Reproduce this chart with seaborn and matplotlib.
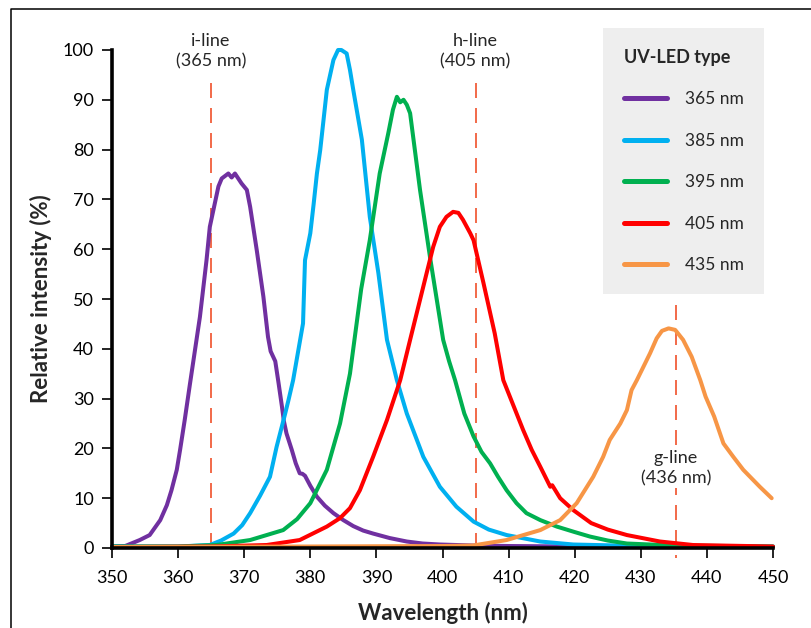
import matplotlib.pyplot as plt
import pandas as pd
import seaborn as sns
from matplotlib.lines import Line2D

led_types = ["365 nm", "385 nm", "395 nm", "405 nm", "435 nm"]
led_colors = ["#7030a0", "#00b0f0", "#00b050", "#ff0000", "#f79646"]

wl_365 = [350, 352, 354.2, 355.7, 357.3, 358.3, 359, 359.8, 360.3, 361, 361.8, 363.3,
          364.3, 364.8, 366.1, 366.6, 367.6, 368.1, 368.6, 369.6, 370.4, 370.9, 371.9,
          372.9, 373.6, 374.0, 374.7, 375.2, 375.7, 376.0, 376.4, 377.2, 377.8, 378.4,
          378.8, 379.2, 380.0, 381, 382.2, 383.5, 385, 386.5, 388, 389.5, 392, 394.6,
          397, 399.6, 404.6, 410, 420, 435, 450]
int_365 = [0.3, 0.4, 1.6, 2.6, 5.6, 8.6, 11.6, 15.7, 19.7, 25.7, 33.0, 46.4,
           57.8, 64.5, 72.6, 74.2, 75.2, 74.4, 75.2, 73.2, 71.9, 68.5, 59.8,
           50.5, 42.4, 39.5, 37.5, 33.1, 28.5, 25.5, 23.0, 19.7, 17.0, 15.0,
           14.9, 14.5, 12.5, 10.3, 8.5, 7.0, 5.6, 4.4, 3.5, 2.9, 2.0, 1.3,
           0.9, 0.7, 0.5, 0.4, 0.3, 0.2, 0.2]

wl_385 = [350, 360, 364.8, 366.5, 368.4, 369.7, 370.9, 372.4, 373.9, 374.9, 376.2, 376.7,
          377.4, 378.9, 379.2, 380, 380.5, 381, 381.5, 382.5, 383.5, 384.2, 384.7, 385.5,
          386, 386.5, 387.8, 389, 390.3, 391.6, 393.1, 394.6, 397.1, 399.6, 402.1, 404.7,
          407, 409.7, 414.8, 419.8, 430, 450]
int_385 = [0.3, 0.3, 0.6, 1.5, 2.9, 4.6, 7.0, 10.5, 14.3, 20.3, 27.0, 29.7,
           33.7, 45.1, 57.8, 63.2, 69.0, 75.2, 79.9, 92.0, 98.0, 100.0, 100.0, 99.3,
           96.0, 92.0, 82.0, 66.5, 55.2, 41.8, 33.7, 27.0, 18.3, 12.3, 8.3, 5.3,
           3.7, 2.6, 1.3, 0.7, 0.4, 0.3]

wl_395 = [350, 360, 365.8, 370.9, 375.9, 378, 380, 382.5, 384.5, 386, 386.5, 387.7,
          389, 390.5, 391.8, 392.5, 393.1, 393.6, 394.1, 394.6, 395.1, 396.6, 398.1,
          400.1, 401.0, 401.9, 403.3, 404.7, 405.9, 407.2, 408.4, 409.7, 411.2, 412.7,
          414.8, 417.3, 420, 422.3, 425, 427.9, 435, 450]
int_395 = [0.3, 0.3, 0.6, 1.6, 3.6, 5.8, 9.0, 15.7, 25.0, 35.0, 40.0, 52.0,
           61.8, 75.2, 83.3, 88.0, 90.6, 89.5, 90.0, 89.0, 87.3, 71.9, 58.5,
           41.8, 37.5, 33.7, 27.0, 22.4, 19.3, 17.0, 14.3, 11.6, 9.0, 7.0,
           5.6, 4.3, 3.2, 2.3, 1.5, 0.9, 0.5, 0.3]

wl_405 = [350, 365, 373.4, 378.4, 382.5, 384.5, 386, 387.5, 389.5, 391.6, 393.6, 395.1,
          397.6, 398.6, 399.6, 400.6, 401.6, 402.4, 403.1, 404.2, 404.7, 406.2, 407.9,
          409.2, 410.7, 412.2, 413.5, 414.8, 416.3, 416.6, 417.8, 419.8, 422.5, 425,
          427.9, 432.9, 437.9, 450]
int_405 = [0.2, 0.3, 0.6, 1.6, 4.3, 6.0, 8.0, 11.6, 18.3, 25.7, 33.7, 41.8,
           55.2, 60.5, 64.5, 66.5, 67.5, 67.3, 65.9, 63.2, 61.8, 53.2, 43.1,
           33.7, 28.7, 23.7, 19.7, 16.3, 12.3, 12.6, 10.0, 7.6, 5.0, 3.7,
           2.6, 1.3, 0.6, 0.3]

wl_435 = [350, 380, 400, 404.6, 409.7, 414.8, 417.8, 420.3, 422.8, 424.3, 425.3, 426.9,
          427.9, 428.6, 429.4, 430.4, 431.4, 432.4, 433.2, 434.2, 435.2, 436.4, 437.7,
          439, 439.8, 441.1, 442.5, 444, 445.5, 448, 449.8]
int_435 = [0.2, 0.3, 0.4, 0.5, 1.6, 3.6, 5.6, 9.0, 14.3, 18.3, 21.7, 25.0,
           27.7, 31.7, 33.7, 36.4, 39.1, 42.1, 43.6, 44.1, 43.8, 41.8, 38.4,
           33.7, 30.4, 26.4, 21.0, 18.3, 15.7, 12.3, 10.0]

mercury_wl = [365, 405, 435.3]
mercury_labels = ["i-line\n(365 nm)", "h-line\n(405 nm)", "g-line\n(436 nm)"]

x_ticks = list(range(350, 451, 10))
y_ticks = list(range(0, 101, 10))

frames = []
for name, wl, inten in zip(led_types,
                           [wl_365, wl_385, wl_395, wl_405, wl_435],
                           [int_365, int_385, int_395, int_405, int_435]):
    frames.append(pd.DataFrame({"wavelength": wl, "intensity": inten, "led": name}))
df = pd.concat(frames, ignore_index=True)

sns.set_theme(style="ticks")
plt.rcParams["font.family"] = ["Lato", "DejaVu Sans"]

fig = plt.figure(figsize=(8.12, 6.28), dpi=100)
ax = fig.add_axes([112 / 812, 1 - 548 / 628, (773 - 112) / 812, (548 - 50) / 628])

sns.lineplot(data=df, x="wavelength", y="intensity", hue="led", hue_order=led_types,
             palette=led_colors, estimator=None, linewidth=2.9, ax=ax)
for line in ax.lines:
    line.set_clip_on(False)
    line.set_solid_capstyle("round")
    line.set_solid_joinstyle("round")

# mercury lines
dash_color = "#f0502a"
tops = [93.3, 93.3, 48.8]
for wl, top in zip(mercury_wl, tops):
    ax.plot([wl, wl], [top, -2.0], color=dash_color, lw=1.2, dashes=(9, 6),
            clip_on=False, zorder=1)
ax.text(mercury_wl[0], 99.8, mercury_labels[0], ha="center", va="center",
        fontsize=13, linespacing=1.3, clip_on=False)
ax.text(mercury_wl[1], 99.8, mercury_labels[1], ha="center", va="center",
        fontsize=13, linespacing=1.3, clip_on=False)
ax.text(mercury_wl[2], 16, mercury_labels[2], ha="center", va="center",
        fontsize=13, linespacing=1.3, zorder=5,
        bbox=dict(facecolor="white", edgecolor="none", pad=1))

ax.set_xlim(350, 450)
ax.set_ylim(0, 100)
ax.set_xticks(x_ticks)
ax.set_yticks(y_ticks)
sns.despine(ax=ax)
for side in ["left", "bottom"]:
    ax.spines[side].set_linewidth(2.6)
    ax.spines[side].set_color("black")
ax.tick_params(axis="both", direction="out", length=7, width=1.2, colors="black",
               labelsize=13)
ax.tick_params(axis="x", pad=9)
ax.tick_params(axis="y", pad=6)
ax.set_xlabel("Wavelength (nm)", fontsize=16, fontweight="bold", labelpad=11)
ax.set_ylabel("Relative intensity (%)", fontsize=16, fontweight="bold", labelpad=8)

leg = ax.legend(title="UV-LED type", loc="upper left",
                bbox_to_anchor=(603 / 812, 1 - 28 / 628), bbox_transform=fig.transFigure,
                borderaxespad=0, frameon=True, fancybox=False, facecolor="#eeeeee",
                edgecolor="none", framealpha=1, fontsize=12.5, labelspacing=1.47,
                handlelength=2.5, handletextpad=1.0, borderpad=1.2, alignment="left",
                title_fontproperties={"weight": "bold", "size": 13})
for h in leg.legend_handles:
    h.set_linewidth(3.6)

fig.add_artist(Line2D([11 / 812, 11 / 812, 1], [0, 1 - 9 / 628, 1 - 9 / 628],
                      transform=fig.transFigure, color="black", lw=1.1))

fig.savefig("out.png", dpi=100)
